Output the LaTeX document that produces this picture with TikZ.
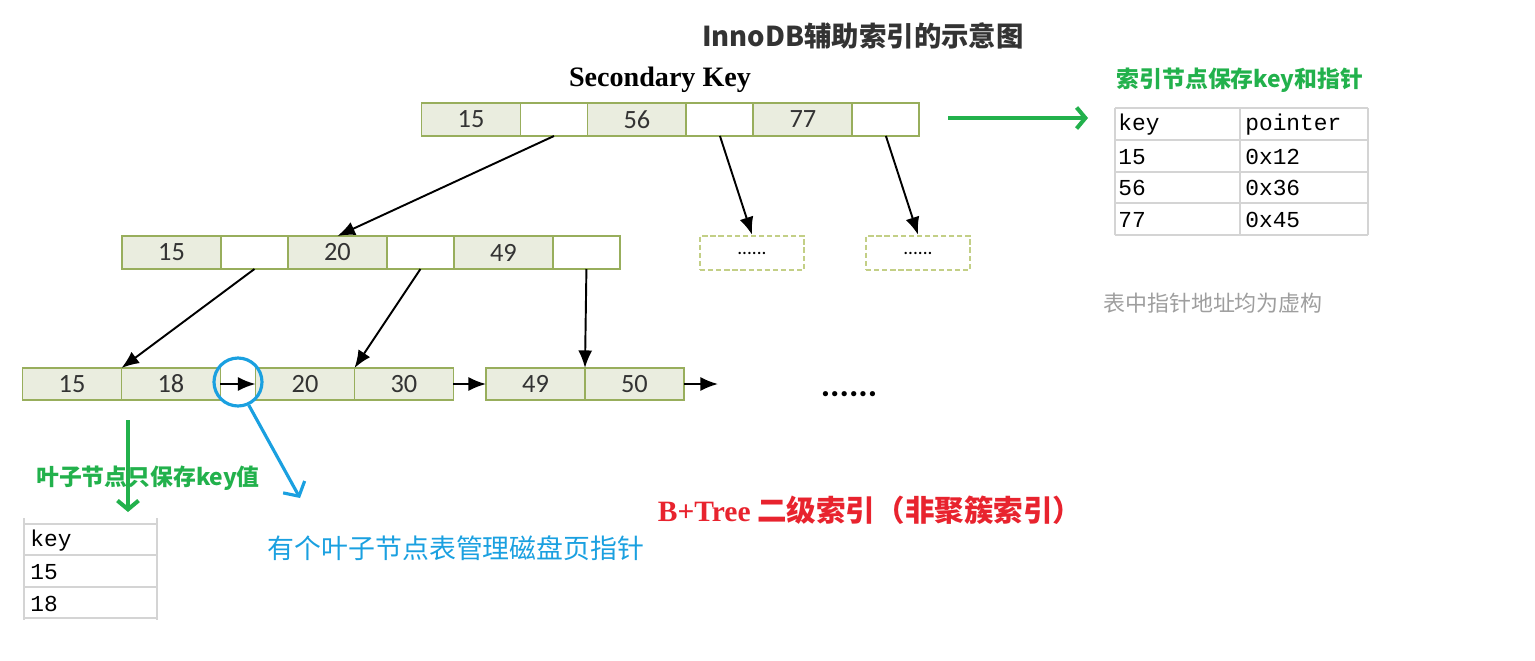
\documentclass[tikz,border=0pt]{standalone}
\usepackage{fontspec}
\setmainfont{Carlito}
\newfontfamily\cjk{Noto Sans CJK SC}
\newfontfamily\tnr{Liberation Serif}
\newfontfamily\mono{Liberation Mono}
\usetikzlibrary{positioning,arrows.meta}
\definecolor{Olive}{HTML}{98AE5C}
\definecolor{KeyFill}{HTML}{EAEDDF}
\definecolor{DashOlive}{HTML}{C3CF86}
\definecolor{LeafGreen}{HTML}{22B14C}
\definecolor{NoteBlue}{HTML}{1AA0E0}
\definecolor{TitleRed}{HTML}{E8232E}
\definecolor{GridGray}{HTML}{D4D4D4}
\definecolor{Black80}{HTML}{333333}
\definecolor{Gray60}{HTML}{9E9E9E}

\begin{document}
\begin{tikzpicture}[x=0.02cm, y=-0.02cm,
  keycell/.style={draw=Olive, fill=KeyFill, line width=1.1pt, minimum width=1.98cm, minimum height=0.66cm, inner sep=0pt, outer sep=0pt, text=Black80, font=\fontsize{15}{17}\selectfont},
  ptrcell/.style={keycell, fill=white, minimum width=1.34cm},
  leafcell/.style={keycell, minimum height=0.64cm},
  morebox/.style={draw=DashOlive, dash pattern=on 3pt off 1.6pt, line width=1.5pt, minimum width=2.08cm, minimum height=0.68cm, font=\fontsize{11}{12}\selectfont},
  link/.style={-{Latex[length=10pt,width=8pt]}, line width=1.1pt},
  greenarrow/.style={LeafGreen, -{Straight Barb[length=5pt,width=12pt]}, line width=2.3pt},
  bluearrow/.style={NoteBlue, -{Straight Barb[length=6pt,width=14pt]}, line width=1.8pt},
  gridline/.style={GridGray, line width=0.8pt},
  tabletext/.style={anchor=west, inner sep=0pt, font=\mono\fontsize{13}{15}\selectfont}]

\useasboundingbox (0,0) rectangle (1535,660);

% Title
\node[font=\cjk\bfseries\fontsize{15.6}{18}\selectfont, Black80] (title) at (863,36) {InnoDB辅助索引的示意图};
\node[font=\tnr\bfseries\fontsize{16}{18}\selectfont] (sk) at (660,80) {Secondary Key};

% Root node
\node[keycell] (s1) at (471,119.5) {15};
\node[ptrcell, right=0pt of s1] (s2) {};
\node[keycell, right=0pt of s2] (s3) {56};
\node[ptrcell, right=0pt of s3] (s4) {};
\node[keycell, right=0pt of s4] (s5) {77};
\node[ptrcell, right=0pt of s5] (s6) {};

% Second level
\node[keycell] (m1) at (171.5,252.5) {15};
\node[ptrcell, right=0pt of m1] (m2) {};
\node[keycell, right=0pt of m2] (m3) {20};
\node[ptrcell, right=0pt of m3] (m4) {};
\node[keycell, right=0pt of m4] (m5) {49};
\node[ptrcell, right=0pt of m5] (m6) {};

\node[morebox] (d1) at (752,253) {......};
\node[morebox] (d2) at (918,253) {......};

% Leaf pages
\node[leafcell] (a1) at (72,384) {15};
\node[leafcell, right=0pt of a1] (a2) {18};
\node[leafcell] (b1) at (305,384) {20};
\node[leafcell, right=0pt of b1] (b2) {30};
\node[leafcell] (c1) at (535.5,384) {49};
\node[leafcell, right=0pt of c1] (c2) {50};
\coordinate (cnext) at (718,384);
\node[font=\bfseries\fontsize{20}{22}\selectfont] (etc) at (849,394) {......};

% Tree pointers
\draw[link] (s2.south) -- (m3.north);
\draw[link] (s4.south) -- (d1.north);
\draw[link] (s6.south) -- (d2.north);
\draw[link] (m2.south) -- (a1.north east);
\draw[link] (m4.south) -- (b1.north east);
\draw[link] (m6.south) -- (c1.north east);
\draw[link] (a2.east) -- (b1.west);
\draw[link] (b2.east) -- (c1.west);
\draw[link] (c2.east) -- (cnext);

% Index node table
\coordinate (g1) at (948,118);
\coordinate (g2) at (1088,118);
\draw[greenarrow] (g1) -- (g2);
\node[font=\cjk\bfseries\fontsize{13}{15}\selectfont, LeafGreen] (idxnote) at (1240,80) {索引节点保存key和指针};
\draw[gridline] (1115,108) -- (1368,108) (1115,140) -- (1368,140) (1115,172) -- (1368,172)
  (1115,203) -- (1368,203) (1115,235) -- (1368,235)
  (1115,108) -- (1115,235) (1240,108) -- (1240,235) (1368,108) -- (1368,235);
\node[tabletext] (tk) at (1118,125) {key};
\node[tabletext] (tp) at (1245,125) {pointer};
\node[tabletext] (tk1) at (1118,157) {15};
\node[tabletext] (tp1) at (1245,157) {0x12};
\node[tabletext] (tk2) at (1118,188) {56};
\node[tabletext] (tp2) at (1245,188) {0x36};
\node[tabletext] (tk3) at (1118,220) {77};
\node[tabletext] (tp3) at (1245,220) {0x45};
\node[font=\cjk\fontsize{12.5}{14}\selectfont, Gray60] (fake) at (1213,303) {表中指针地址均为虚构};

% Leaf notes
\coordinate (l1) at (128,420);
\coordinate (l2) at (128,512);
\draw[greenarrow] (l1) -- (l2);
\node[font=\cjk\bfseries\fontsize{13}{15}\selectfont, LeafGreen] (leafnote) at (148,478) {叶子节点只保存key值};
\draw[gridline] (24,524) -- (157,524) (24,555) -- (157,555) (24,587) -- (157,587) (24,618) -- (157,618)
  (24,518) -- (24,620) (157,518) -- (157,620);
\node[tabletext] (lk) at (30,541) {key};
\node[tabletext] (lk1) at (30,572) {15};
\node[tabletext] (lk2) at (30,604) {18};

\node[circle, draw=NoteBlue, line width=1.8pt, minimum size=0.96cm] (hl) at (238,382) {};
\coordinate (bt) at (300,498);
\draw[bluearrow] (hl.-65) -- (bt);
\node[font=\cjk\fontsize{15.3}{17}\selectfont, NoteBlue] (pagenote) at (456,548) {有个叶子节点表管理磁盘页指针};

\node[font=\cjk\bfseries\fontsize{16.8}{19}\selectfont, TitleRed] (caption) at (870,510) {{\tnr B+Tree} 二级索引（非聚簇索引）};
\end{tikzpicture}
\end{document}
